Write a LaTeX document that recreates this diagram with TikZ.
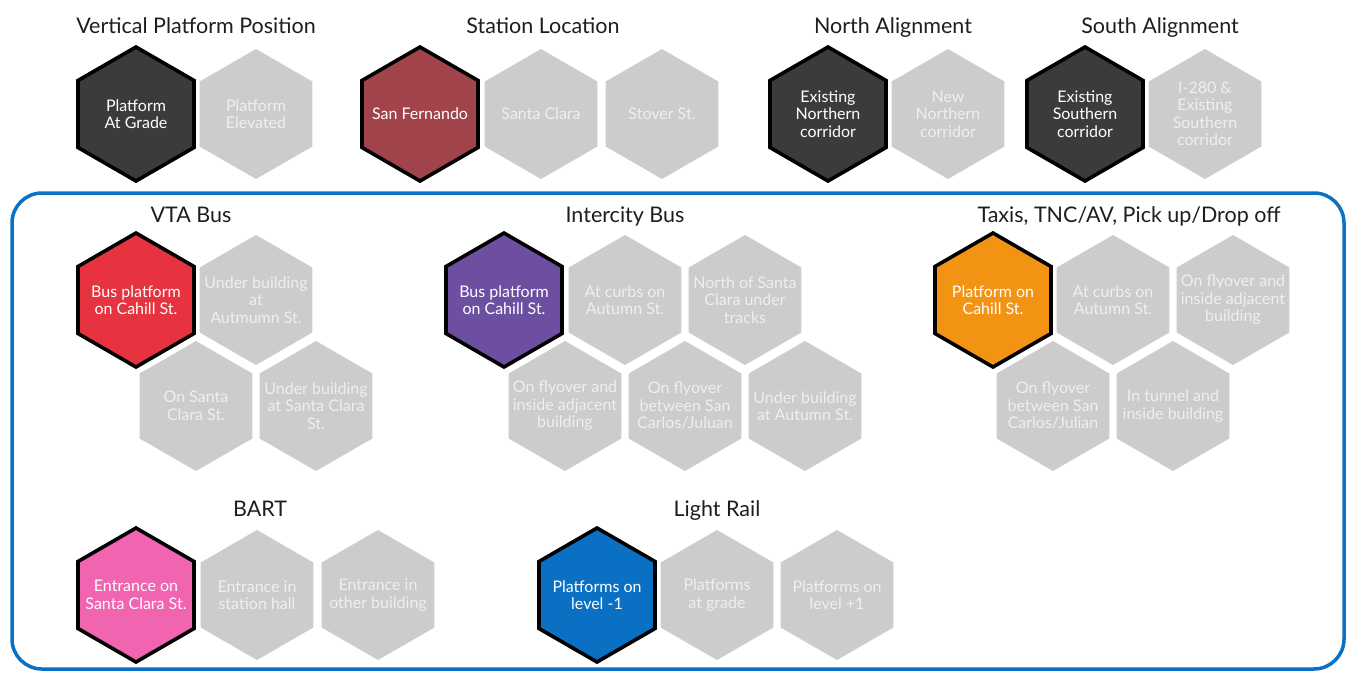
\documentclass[tikz,border=0pt]{standalone}
\usepackage{fontspec}
\setmainfont{Lato}
\usetikzlibrary{shapes.geometric}
\definecolor{hexgray}{HTML}{CDCCCD}
\definecolor{hextext}{HTML}{EFEFEF}
\definecolor{cdark}{HTML}{3C3A3B}
\definecolor{cmaroon}{HTML}{A1434B}
\definecolor{cred}{HTML}{E73340}
\definecolor{cpurple}{HTML}{6C4FA1}
\definecolor{corange}{HTML}{F39314}
\definecolor{cpink}{HTML}{F064B0}
\definecolor{cblue}{HTML}{0A70C4}
\definecolor{framecol}{HTML}{0A72C6}
\definecolor{titlecol}{HTML}{1E1E1E}
\newcommand\HexOff[4]{\node[hexoff] (#1) at (#2,#3) {}; \node[hexlbloff] (#1-t) at (#1.center) {#4};}
\newcommand\HexOn[5]{\node[hexon, fill=#4] (#1) at (#2,#3) {}; \node[hexlbl] (#1-t) at (#1.center) {#5};}
\begin{document}
\begin{tikzpicture}[x=1pt,y=-1pt,
  hexbase/.style={regular polygon, regular polygon sides=6, shape border rotate=30, inner sep=0pt, outer sep=0pt},
  hexoff/.style={hexbase, fill=hexgray, minimum size=130pt},
  hexon/.style={hexbase, draw=black, line width=3.6pt, minimum size=134pt},
  hexlbl/.style={align=center, font=\fontsize{16}{17.5}\selectfont, text=white, inner sep=0pt},
  hexlbloff/.style={hexlbl, text=hextext},
  grouptitle/.style={font=\fontsize{21.5}{24}\selectfont, anchor=base, text=titlecol, inner sep=0pt},
  framebox/.style={draw=framecol, line width=3.5pt, rounded corners=30pt}
]
\useasboundingbox (0,0) rectangle (1349,673);
\fill[white] (0,0) rectangle (1349,673);

% frame
\draw[framebox] (12,193) rectangle (1344,669);

% titles
\node[grouptitle] (t1) at (196,33) {Vertical Platform Position};
\node[grouptitle] (t2) at (543,33) {Station Location};
\node[grouptitle] (t3) at (893,33) {North Alignment};
\node[grouptitle] (t4) at (1160,33) {South Alignment};
\node[grouptitle] (t5) at (191,222) {VTA Bus};
\node[grouptitle] (t6) at (625,222) {Intercity Bus};
\node[grouptitle] (t7) at (1129,222) {Taxis, TNC/AV, Pick up/Drop off};
\node[grouptitle] (t8) at (260,516) {BART};
\node[grouptitle] (t9) at (717,516) {Light Rail};

% top row
\HexOn{vp1}{136}{114}{cdark}{Platform\\At Grade}
\HexOff{vp2}{256}{114}{Platform\\Elevated}
\HexOn{sl1}{420}{114}{cmaroon}{San Fernando}
\HexOff{sl2}{541}{114}{Santa Clara}
\HexOff{sl3}{662}{114}{Stover St.}
\HexOn{na1}{828}{114}{cdark}{Existing\\Northern\\corridor}
\HexOff{na2}{948}{114}{New\\Northern\\corridor}
\HexOn{sa1}{1085}{114}{cdark}{Existing\\Southern\\corridor}
\HexOff{sa2}{1205}{114}{I-280 \&\\Existing\\Southern\\corridor}

% VTA Bus
\HexOn{vb1}{136}{300}{cred}{Bus platform\\on Cahill St.}
\HexOff{vb2}{256}{300}{Under building\\at\\Autmumn St.}
\HexOff{vb3}{196}{406}{On Santa\\Clara St.}
\HexOff{vb4}{316}{406}{Under building\\at Santa Clara\\St.}

% Intercity Bus
\HexOn{ib1}{504}{300}{cpurple}{Bus platform\\on Cahill St.}
\HexOff{ib2}{625}{300}{At curbs on\\Autumn St.}
\HexOff{ib3}{745}{300}{North of Santa\\Clara under\\tracks}
\HexOff{ib4}{565}{406}{On flyover and\\inside adjacent\\building}
\HexOff{ib5}{685}{406}{On flyover\\between San\\Carlos/Juluan}
\HexOff{ib6}{805}{406}{Under building\\at Autumn St.}

% Taxis
\HexOn{tx1}{993}{300}{corange}{Platform on\\Cahill St.}
\HexOff{tx2}{1113}{300}{At curbs on\\Autumn St.}
\HexOff{tx3}{1233}{300}{On flyover and\\inside adjacent\\building}
\HexOff{tx4}{1053}{406}{On flyover\\between San\\Carlos/Julian}
\HexOff{tx5}{1173}{406}{In tunnel and\\inside building}

% BART
\HexOn{bt1}{136}{595}{cpink}{Entrance on\\Santa Clara St.}
\HexOff{bt2}{257}{595}{Entrance in\\station hall}
\HexOff{bt3}{378}{595}{Entrance in\\other building}

% Light Rail
\HexOn{lr1}{597}{595}{cblue}{Platforms on\\level -1}
\HexOff{lr2}{717}{595}{Platforms\\at grade}
\HexOff{lr3}{837}{595}{Platforms on\\level +1}
\end{tikzpicture}
\end{document}
